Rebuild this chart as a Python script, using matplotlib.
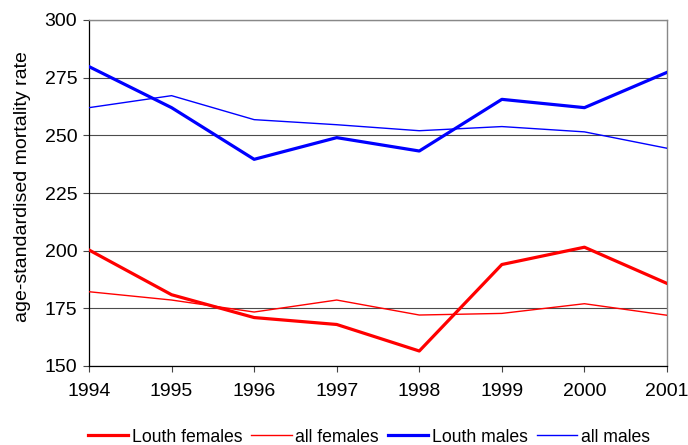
import matplotlib
matplotlib.use("Agg")
import matplotlib.pyplot as plt

plt.rcParams['font.family'] = ['Liberation Sans', 'DejaVu Sans']

years = [1994, 1995, 1996, 1997, 1998, 1999, 2000, 2001]
louth_females = [200.3, 180.9, 171.0, 168.0, 156.5, 194.0, 201.5, 185.8]
all_females = [182.2, 178.6, 173.4, 178.6, 172.1, 172.8, 177.0, 172.0]
louth_males = [279.8, 262.0, 239.6, 249.0, 243.2, 265.6, 262.0, 277.3]
all_males = [262.0, 267.2, 256.8, 254.6, 252.0, 253.8, 251.5, 244.4]
yticks = [150, 175, 200, 225, 250, 275, 300]

fig = plt.figure(figsize=(6.88, 4.45), dpi=100)
ax = fig.add_axes([89/688, 1 - 366/445, (667-89)/688, (366-20)/445])

red = '#ff0000'
blue = '#0000ff'
ax.plot(years, louth_females, color=red, lw=2.3, label='Louth females', zorder=3)
ax.plot(years, all_females, color=red, lw=1.0, label='all females', zorder=3)
ax.plot(years, louth_males, color=blue, lw=2.3, label='Louth males', zorder=3)
ax.plot(years, all_males, color=blue, lw=1.0, label='all males', zorder=3)

ax.set_xlim(1994, 2001)
ax.set_ylim(150, 300)
ax.set_yticks(yticks)
ax.set_xticks(years)
ax.yaxis.grid(True, color='#000000', lw=0.8, alpha=0.7)
ax.set_axisbelow(True)
ax.tick_params(axis='both', labelsize=14, direction='out', length=4.5, width=0.8, color='#444444')
ax.tick_params(axis='x', pad=8)
ax.tick_params(axis='y', pad=4)
for s in ['left', 'bottom']:
    ax.spines[s].set_color('#000000')
    ax.spines[s].set_linewidth(0.9)
for s in ['top', 'right']:
    ax.spines[s].set_color('#888888')
    ax.spines[s].set_linewidth(1.0)

ax.set_ylabel('age-standardised mortality rate', fontsize=14)
ax.yaxis.set_label_coords(-0.101, 0.52)

fig.legend(loc='center', bbox_to_anchor=(0.536, 1 - 437/445), ncol=4, frameon=False,
           fontsize=12.7, handlelength=2.3, handletextpad=0.2, columnspacing=0.5)

fig.savefig('out.png', dpi=100)
